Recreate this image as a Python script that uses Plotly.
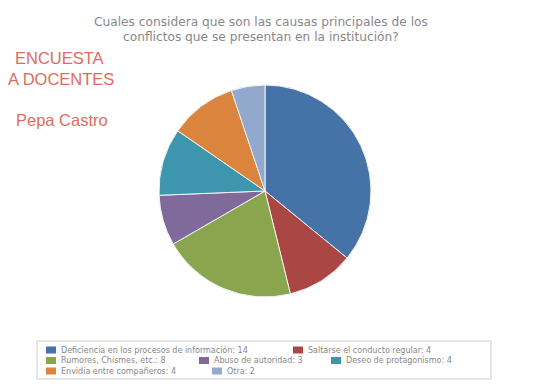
import plotly.graph_objects as go

# Survey answers: main causes of conflicts in the institution
causes = [
    "Deficiencia en los procesos de información",
    "Saltarse el conducto regular",
    "Rumores, Chismes, etc.",
    "Abuso de autoridad",
    "Deseo de protagonismo",
    "Envidia entre compañeros",
    "Otra",
]
counts = [14, 4, 8, 3, 4, 4, 2]
colors = ["#4572A7", "#AA4643", "#89A54E", "#80699B", "#3D96AE", "#DB843D", "#92A8CD"]

labels = [f"{c}: {n}" for c, n in zip(causes, counts)]

title_lines = [
    "Cuales considera que son las causas principales de los",
    "conflictos que se presentan en la institución?",
]

W, H = 534, 387
cx, cy, r = 265, 191, 106


def px(x):
    return x / W


def py(y):
    return 1 - y / H


fig = go.Figure(go.Pie(
    labels=labels,
    values=counts,
    sort=False,
    direction="clockwise",
    rotation=0,
    textinfo="none",
    hoverinfo="label+percent",
    showlegend=False,
    marker=dict(colors=colors, line=dict(color="#f2f2f2", width=1)),
    domain=dict(x=[px(cx - r), px(cx + r)], y=[py(cy + r), py(cy - r)]),
))

# Boxed legend laid out in three rows below the pie
legend_slots = [(46, 350), (293, 350), (46, 360.5), (199, 360.5), (331, 360.5), (46, 371), (212, 371)]
shapes = [dict(type="rect", xref="paper", yref="paper",
               x0=px(37), x1=px(491), y0=py(379), y1=py(341),
               line=dict(color="#cccccc", width=1), fillcolor="white", layer="below")]
annotations = []
for (sx, sy), lab, col in zip(legend_slots, labels, colors):
    shapes.append(dict(type="rect", xref="paper", yref="paper",
                       x0=px(sx), x1=px(sx + 10), y0=py(sy + 3.5), y1=py(sy - 3.5),
                       line=dict(width=0), fillcolor=col))
    annotations.append(dict(text=lab, x=px(sx + 14), y=py(sy), xref="paper", yref="paper",
                            xanchor="left", yanchor="middle", showarrow=False, borderpad=0,
                            font=dict(family="DejaVu Sans", size=8, color="#888888")))

# Chart title, two centred lines
title_font = dict(family="DejaVu Sans", size=12.2, color="#888888")
for line, ty in zip(title_lines, [22, 37]):
    annotations.append(dict(text=line, x=px(261), y=py(ty), xref="paper", yref="paper",
                            xanchor="center", yanchor="middle", showarrow=False,
                            font=title_font))

side_font = dict(family="Liberation Sans", size=16.5, color="#dd6d5e")
annotations += [
    dict(text="ENCUESTA", x=px(59), y=py(58), xref="paper", yref="paper",
         xanchor="center", yanchor="middle", showarrow=False, font=side_font),
    dict(text="A DOCENTES", x=px(61), y=py(79), xref="paper", yref="paper",
         xanchor="center", yanchor="middle", showarrow=False, font=side_font),
    dict(text="Pepa Castro", x=px(62), y=py(120), xref="paper", yref="paper",
         xanchor="center", yanchor="middle", showarrow=False, font=side_font),
]

fig.update_layout(
    width=W, height=H,
    margin=dict(l=0, r=0, t=0, b=0),
    paper_bgcolor="white",
    plot_bgcolor="white",
    shapes=shapes,
    annotations=annotations,
)

fig.write_html("out.html")
